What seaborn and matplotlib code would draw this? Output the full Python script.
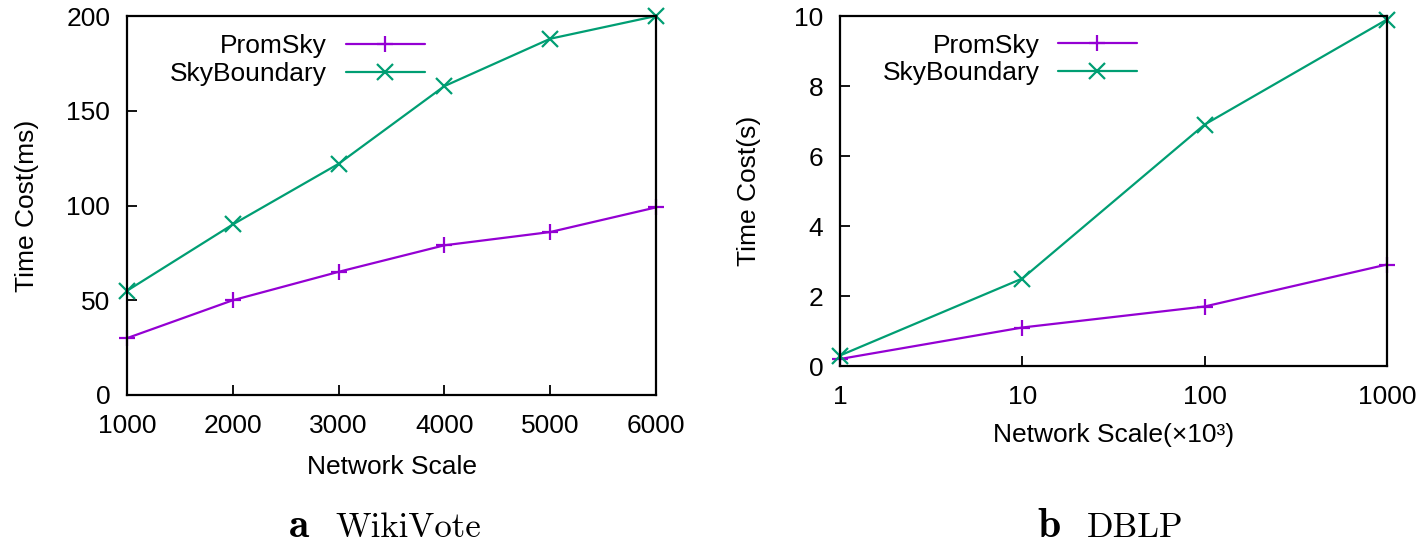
import matplotlib
matplotlib.use("Agg")
import matplotlib.pyplot as plt
import seaborn as sns
import pandas as pd
from matplotlib.ticker import FixedLocator, NullLocator, FixedFormatter

# ---- data ----
series = ["PromSky", "SkyBoundary"]
wiki_x = [1000, 2000, 3000, 4000, 5000, 6000]
wiki_promsky = [30, 50, 65, 79, 86, 99]
wiki_skyboundary = [55, 90, 122, 163, 188, 200]

dblp_x = [1, 10, 100, 1000]
dblp_promsky = [0.2, 1.1, 1.7, 2.9]
dblp_skyboundary = [0.3, 2.5, 6.9, 9.9]

wiki_yticks = [0, 50, 100, 150, 200]
dblp_yticks = [0, 2, 4, 6, 8, 10]
dblp_xticklabels = ["1", "10", "100", "1000"]

colors = {"PromSky": "#9400D3", "SkyBoundary": "#009E73"}
markers = {"PromSky": "+", "SkyBoundary": "x"}

sns.set_theme(style="white")
plt.rcParams["font.family"] = ["Liberation Sans", "DejaVu Sans"]
plt.rcParams["text.color"] = "black"
plt.rcParams["axes.labelcolor"] = "black"

def make_df(x, a, b):
    return pd.DataFrame({
        "x": list(x) + list(x),
        "y": list(a) + list(b),
        "method": [series[0]] * len(x) + [series[1]] * len(x),
    })

fig = plt.figure(figsize=(14.19, 5.49), dpi=100)
W, H = 1419, 549
ax1 = fig.add_axes([127 / W, 1 - 395 / H, (656 - 127) / W, (395 - 16) / H])
ax2 = fig.add_axes([840 / W, 1 - 366 / H, (1387 - 840) / W, (366 - 16) / H])

FS = 19

def draw(ax, df, anchor):
    sns.lineplot(data=df, x="x", y="y", hue="method", style="method",
                 palette=colors, markers=markers, dashes=False,
                 linewidth=1.6, markersize=12, ax=ax)
    for line in ax.get_lines():
        c = line.get_color()
        line.set_markeredgecolor(c)
        line.set_markerfacecolor(c)
        line.set_markeredgewidth(1.6)
        line.set_clip_on(False)
    for s in ax.spines.values():
        s.set_visible(True)
        s.set_color("black")
        s.set_linewidth(1.6)
    ax.tick_params(axis="both", which="major", direction="in", length=7,
                   width=1.3, labelsize=FS, colors="black", top=False, right=False,
                   left=True, bottom=True)
    ax.tick_params(axis="y", pad=12)
    ax.tick_params(axis="x", pad=14)
    h, l = ax.get_legend_handles_labels()
    for hh in h:
        hh.set_markeredgecolor(hh.get_color())
        hh.set_markeredgewidth(1.6)
    ax.legend(h, l, loc="upper right", bbox_to_anchor=anchor, frameon=False,
              markerfirst=False, fontsize=FS, handlelength=3.0,
              handletextpad=0.7, labelspacing=0.15, borderaxespad=0.0,
              borderpad=0.0)

draw(ax1, make_df(wiki_x, wiki_promsky, wiki_skyboundary), (0.563, 0.952))
ax1.set_xlim(1000, 6000)
ax1.set_ylim(0, 200)
ax1.set_xticks(wiki_x)
ax1.set_yticks(wiki_yticks)
ax1.set_xlabel("Network Scale", fontsize=FS, labelpad=12)
ax1.set_ylabel("Time Cost(ms)", fontsize=FS, labelpad=20)

draw(ax2, make_df(dblp_x, dblp_promsky, dblp_skyboundary), (0.543, 0.950))
ax2.set_xscale("log")
ax2.set_xlim(1, 1000)
ax2.set_ylim(0, 10)
ax2.xaxis.set_major_locator(FixedLocator(dblp_x))
ax2.xaxis.set_major_formatter(FixedFormatter(dblp_xticklabels))
ax2.xaxis.set_minor_locator(NullLocator())
ax2.set_yticks(dblp_yticks)
ax2.set_xlabel("Network Scale(×10³)", fontsize=FS, labelpad=10)
ax2.set_ylabel("Time Cost(s)", fontsize=FS, labelpad=24)

# captions
yb = 1 - 537 / H
fig.text(309 / W, yb, "a", fontsize=30, family="cmb10", ha="right", va="baseline")
fig.text(335 / W, yb, "WikiVote", fontsize=25, family="cmr10", ha="left", va="baseline")
fig.text(1061 / W, yb, "b", fontsize=30, family="cmb10", ha="right", va="baseline")
fig.text(1087 / W, yb, "DBLP", fontsize=25, family="cmr10", ha="left", va="baseline")

fig.savefig("out.png", dpi=100)
